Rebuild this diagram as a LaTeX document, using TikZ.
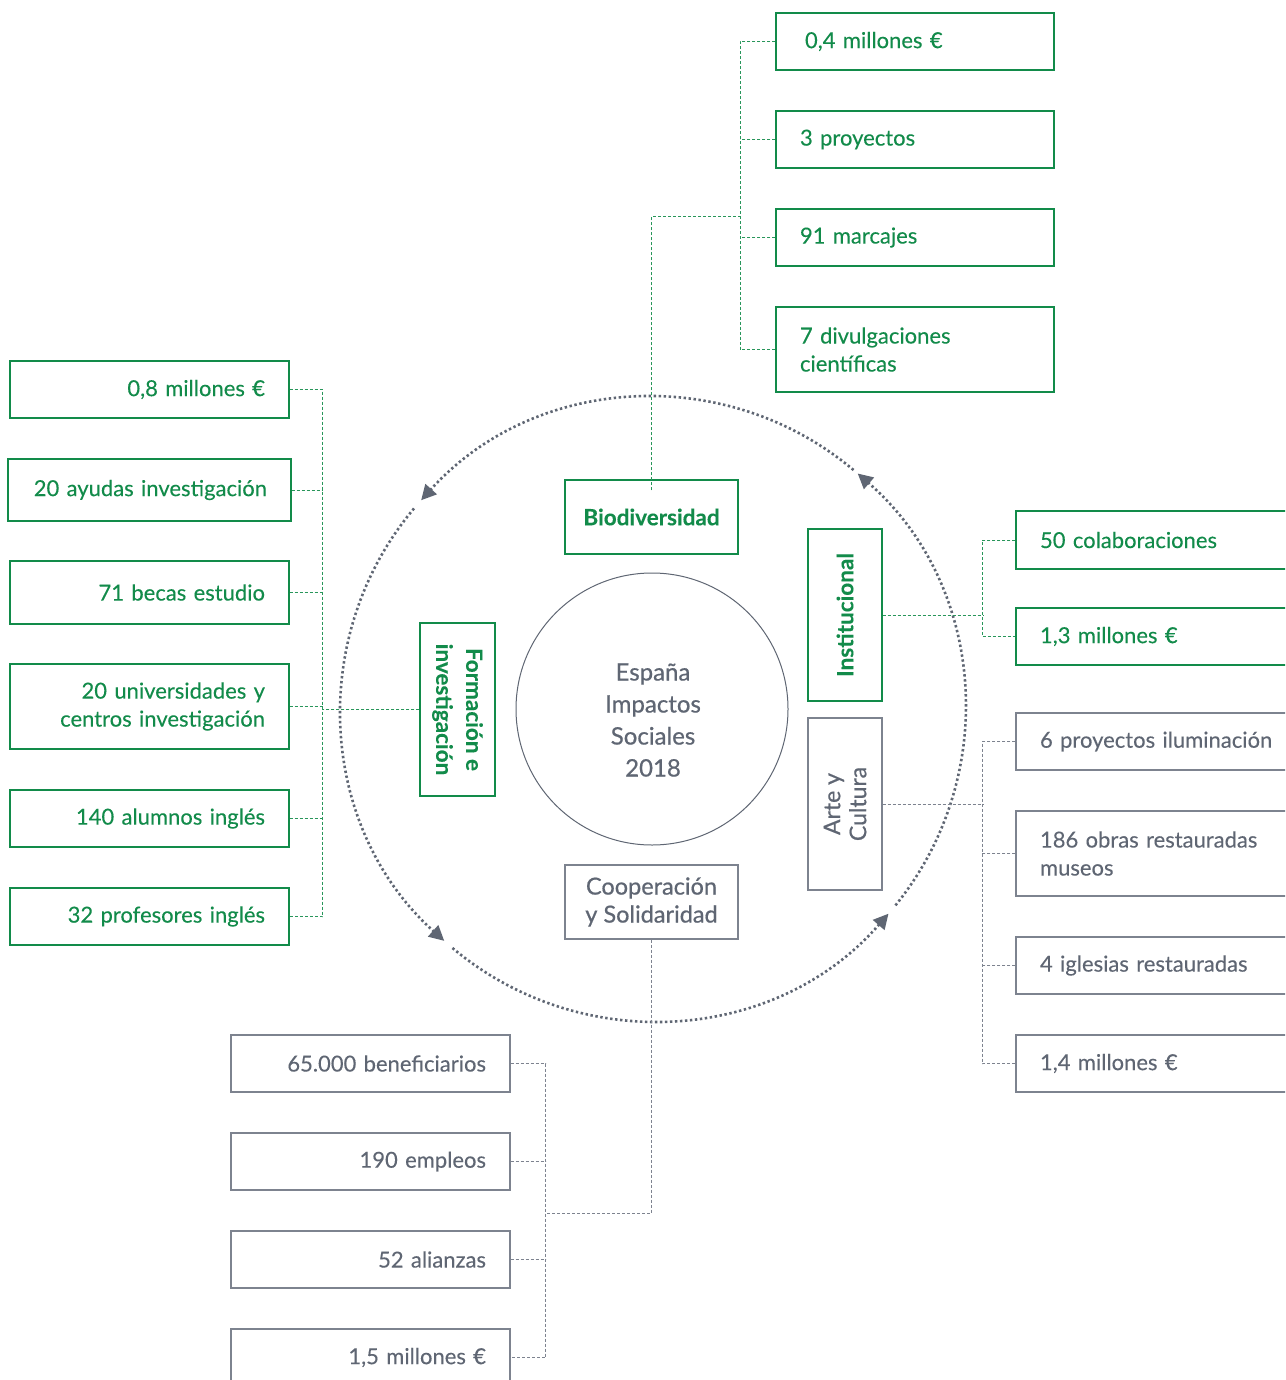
\documentclass[tikz,border=0pt]{standalone}
\usepackage{fontspec}
\setmainfont{Lato}[FakeBold=0.15]
\newfontfamily\medfont[FakeBold=0.6]{Lato}
\usetikzlibrary{arrows.meta}
\definecolor{gr}{RGB}{18,139,74}
\definecolor{grl}{RGB}{40,150,90}
\definecolor{gy}{RGB}{95,102,115}
\definecolor{gyl}{RGB}{125,131,143}
\begin{document}
\begin{tikzpicture}[x=1pt,y=-1pt,
  every node/.style={font=\fontsize{22}{28}\selectfont},
  gbox/.style={draw=gr, line width=1.2pt, text=gr, inner xsep=24pt, inner ysep=0pt, minimum height=57pt},
  ybox/.style={draw=gyl, line width=1.2pt, text=gy, inner xsep=24pt, inner ysep=0pt, minimum height=57pt},
  catg/.style={draw=gr, line width=1.2pt, inner sep=0pt},
  caty/.style={draw=gyl, line width=1.2pt, inner sep=0pt},
  gconn/.style={draw=grl, line width=1pt, dash pattern=on 3pt off 2pt},
  yconn/.style={draw=gyl, line width=1pt, dash pattern=on 3pt off 2pt},
  ring/.style={draw=gy, line width=2.6pt, dash pattern=on 2.4pt off 2.6pt, -{Triangle[length=15pt,width=15pt]}}
]
\path[use as bounding box, fill=white] (0,0) rectangle (1285,1380);
\clip (0,0) rectangle (1285,1380);

% central circle
\node[circle, draw=gy, line width=1pt, minimum size=272pt, inner sep=0pt] (core) at (652,709) {};
\node[text=gy, align=center, font=\medfont\fontsize{24}{32}\selectfont] (coretext) at (653,720) {España\\Impactos\\Sociales\\2018};

% outer dotted ring with arrows
\draw[ring] (653,709) ++(50:312pt) arc[start angle=50, end angle=138, radius=312pt];
\draw[ring] (653,709) ++(140:312pt) arc[start angle=140, end angle=228, radius=312pt];
\draw[ring] (653,709) ++(230:312pt) arc[start angle=230, end angle=319, radius=312pt];
\draw[ring] (653,709) ++(321:312pt) arc[start angle=321, end angle=409, radius=312pt];

% category boxes
\node[catg, minimum width=173pt, minimum height=74pt] (bio) at (651.5,517) {};
\node[text=gr, font=\bfseries\fontsize{22.5}{28}\selectfont] (biot) at (bio) {Biodiversidad};
\node[catg, minimum width=74pt, minimum height=172pt] (inst) at (845,615) {};
\node[text=gr, rotate=90, font=\bfseries\fontsize{22.5}{28}\selectfont] (instt) at (inst) {Institucional};
\node[caty, minimum width=74pt, minimum height=172pt] (arte) at (845,804) {};
\node[text=gy, rotate=90, align=center, font=\medfont\fontsize{23}{26}\selectfont] (artet) at (arte) {Arte y\\Cultura};
\node[catg, minimum width=75pt, minimum height=173pt] (form) at (457.5,709.5) {};
\node[text=gr, rotate=-90, align=center, font=\bfseries\fontsize{22.5}{30}\selectfont] (formt) at (form) {Formación e\\investigación};
\node[caty, minimum width=173pt, minimum height=74pt] (coop) at (651.5,902) {};
\node[text=gy, align=center, font=\medfont\fontsize{23.5}{28}\selectfont] (coopt) at (coop) {Cooperación\\y Solidaridad};

% Biodiversidad items
\node[gbox, text width=230pt, align=left] (b1) at (915,41.5) {\hspace*{5pt}0,4 millones €};
\node[gbox, text width=230pt, align=left] (b2) at (915,139.5) {3 proyectos};
\node[gbox, text width=230pt, align=left] (b3) at (915,237.5) {91 marcajes};
\node[gbox, text width=230pt, align=left, minimum height=85pt] (b4) at (915,349.5) {7 divulgaciones\\científicas};

% Formación items
\node[gbox, text width=231pt, align=right] (l1) at (149.5,389.5) {0,8 millones €};
\node[gbox, text width=235pt, align=right, minimum height=62pt] (l2) at (149.5,490) {20 ayudas investigación};
\node[gbox, text width=231pt, align=right, minimum height=63pt] (l3) at (149.5,592.5) {71 becas estudio};
\node[gbox, text width=231pt, align=right, minimum height=85pt] (l4) at (149.5,706.5) {20 universidades y\\centros investigación};
\node[gbox, text width=231pt, align=right] (l5) at (149.5,818.5) {140 alumnos inglés};
\node[gbox, text width=231pt, align=right] (l6) at (149.5,916.5) {32 profesores inglés};

% Institucional items
\node[gbox, text width=252pt, align=left, minimum height=58pt] (i1) at (1166,540) {50 colaboraciones};
\node[gbox, text width=252pt, align=left] (i2) at (1166,636.5) {1,3 millones €};

% Arte y Cultura items
\node[ybox, text width=252pt, align=left] (a1) at (1166,741.5) {6 proyectos iluminación};
\node[ybox, text width=252pt, align=left, minimum height=85pt] (a2) at (1166,853.5) {186 obras restauradas\\museos};
\node[ybox, text width=252pt, align=left] (a3) at (1166,965.5) {4 iglesias restauradas};
\node[ybox, text width=252pt, align=left] (a4) at (1166,1063.5) {1,4 millones €};

% Cooperación items
\node[ybox, text width=231pt, align=right] (c1) at (370.5,1063.5) {65.000 beneficiarios};
\node[ybox, text width=231pt, align=right] (c2) at (370.5,1161.5) {190 empleos};
\node[ybox, text width=231pt, align=right] (c3) at (370.5,1259.5) {52 alianzas};
\node[ybox, text width=231pt, align=right] (c4) at (370.5,1357.5) {1,5 millones €};

% junction coordinates
\coordinate (bj) at (741,217);
\coordinate (fj) at (322,709.5);
\coordinate (ij) at (983,615);
\coordinate (aj) at (983,804);
\coordinate (cj) at (545,1213);

% connectors: Biodiversidad
\draw[gconn] ([yshift=-11pt]bio.north) |- (bj);
\draw[gconn] (b1.west) -- ++(-35,0) |- (b4.west);
\draw[gconn] (b2.west) -- ++(-35,0);
\draw[gconn] (b3.west) -- ++(-35,0);

% connectors: Formación
\draw[gconn] (form.west) -- (fj);
\draw[gconn] (l1.east) -- ++(33,0) |- (l6.east);
\draw[gconn] (l2.east) -- ++(31,0);
\draw[gconn] (l3.east) -- ++(33,0);
\draw[gconn] (l4.east) -- ++(33,0);
\draw[gconn] (l5.east) -- ++(33,0);

% connectors: Institucional
\draw[gconn] (inst.east) -- (ij);
\draw[gconn] (i1.west) -- ++(-33,0) |- (i2.west);

% connectors: Arte y Cultura
\draw[yconn] (arte.east) -- (aj);
\draw[yconn] (a1.west) -- ++(-33,0) |- (a4.west);
\draw[yconn] (a2.west) -- ++(-33,0);
\draw[yconn] (a3.west) -- ++(-33,0);

% connectors: Cooperación
\draw[yconn] (coop.south) |- (cj);
\draw[yconn] (c1.east) -- ++(35,0) |- (c4.east);
\draw[yconn] (c2.east) -- ++(35,0);
\draw[yconn] (c3.east) -- ++(35,0);
\end{tikzpicture}
\end{document}
